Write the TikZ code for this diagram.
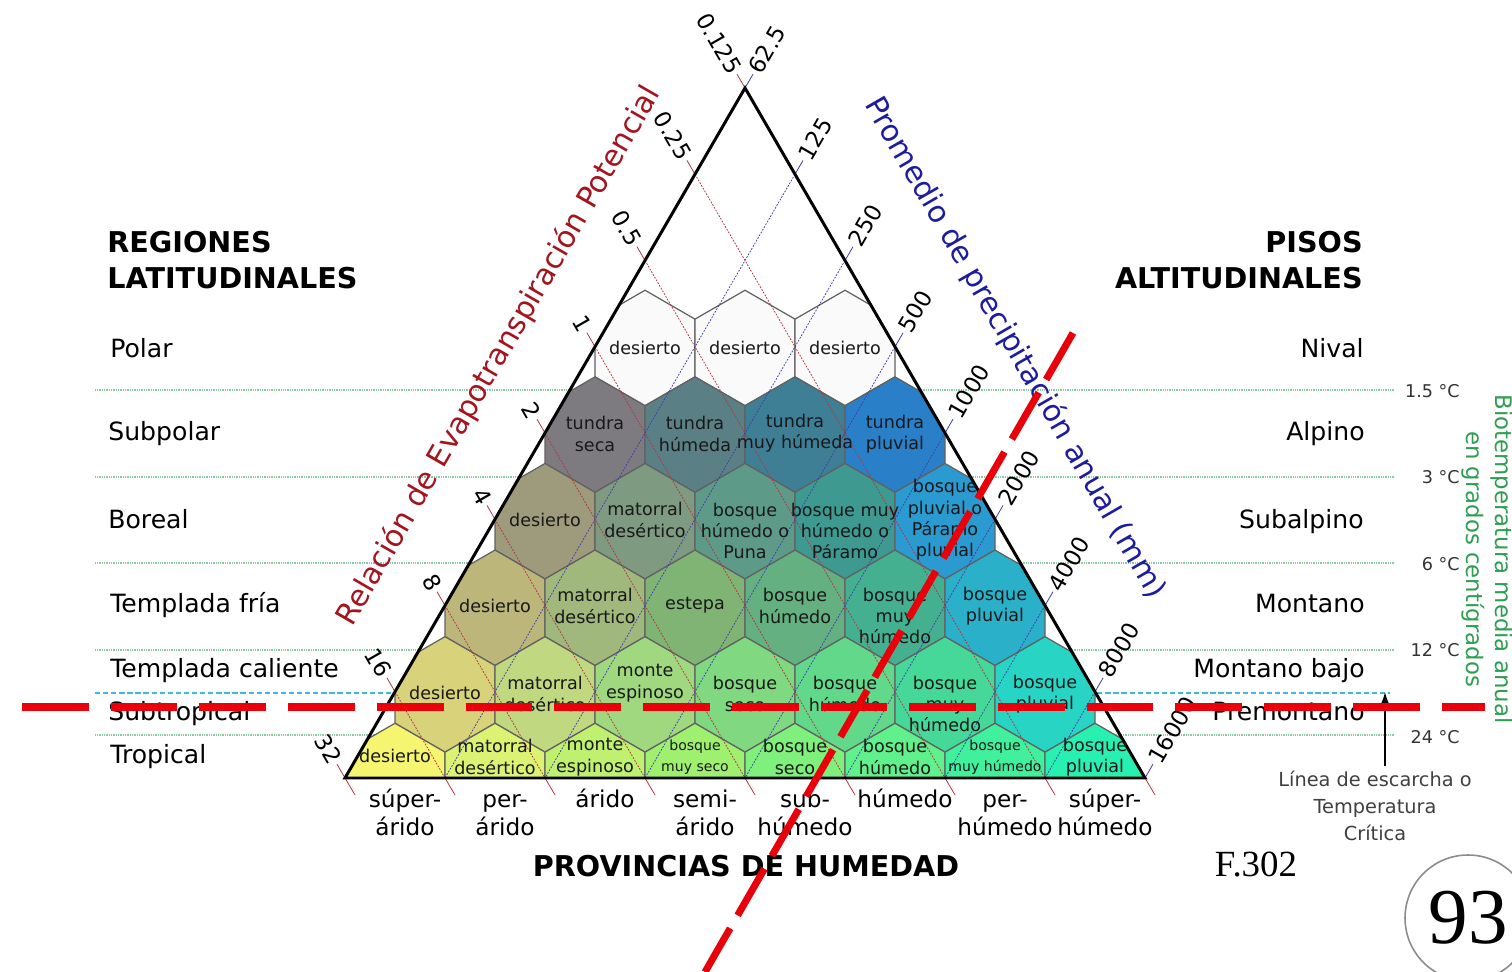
\documentclass[tikz,border=0pt]{standalone}
\usepackage{fontspec}
\setmainfont{DejaVu Sans}
\newfontfamily\serifa{Liberation Serif}
\usepackage{tikz}
\usetikzlibrary{positioning,arrows.meta}

\definecolor{rojoeje}{HTML}{A3141E}
\definecolor{azuleje}{HTML}{1C1CA0}
\definecolor{verdebio}{HTML}{2E9E50}
\definecolor{verdeguia}{HTML}{8CCBA2}
\definecolor{azulhelada}{HTML}{3CB8E6}
\definecolor{rojomarca}{HTML}{E8000A}

%hexagono de punta arriba, centro (#1,#2)
\newcommand{\hexa}[2]{(#1,#2-57.74) -- (#1+50,#2-28.87) -- (#1+50,#2+28.87) -- (#1,#2+57.74) -- (#1-50,#2+28.87) -- (#1-50,#2-28.87) -- cycle}

%x/y centro, y texto, color, letra, texto
\def\zonas{645/348/348/FAFAFA/10/desierto, 745/348/348/FAFAFA/10/desierto, 845/348/348/FAFAFA/10/desierto,
595/434.6/434/7D7B80/10/{tundra\\seca}, 695/434.6/434/5A8085/10/{tundra\\húmeda}, 795/434.6/433/3E7F96/10/{tundra\\muy húmeda}, 895/434.6/434/2A80C8/10/{tundra\\pluvial},
545/521.2/520/9E9A7C/10/desierto, 645/521.2/520/7E9A80/10/{matorral\\desértico}, 745/521.2/531/5E9A88/10/{bosque\\húmedo o\\Puna}, 845/521.2/531/3E9A90/10/{bosque muy\\húmedo o\\Páramo}, 945/521.2/520/2A9AD0/10/{bosque\\pluvial o\\Páramo\\pluvial},
495/607.8/606/BDB67A/10/desierto, 595/607.8/606/A0B87C/10/{matorral\\desértico}, 695/607.8/605/80B474/10/estepa, 795/607.8/606/64B080/10/{bosque\\húmedo}, 895/607.8/616/45B090/10/{bosque\\muy\\húmedo}, 995/607.8/606/2AB0C8/10/{bosque\\pluvial},
445/694.4/693/D8D27A/10/desierto, 545/694.4/694/C0D880/10/{matorral\\desértico}, 645/694.4/683/A0D880/10/{monte\\espinoso}, 745/694.4/694/80D880/10/{bosque\\seco}, 845/694.4/694/62D88A/10/{bosque\\húmedo}, 945/694.4/704/45D898/10/{bosque\\muy\\húmedo}, 1045/694.4/694/28D4C4/10/{bosque\\pluvial},
395/781/756/F5F570/10/desierto, 495/781/757/DCF272/10/{matorral\\desértico}, 595/781/757/C0F070/10/{monte\\espinoso}, 695/781/757/A0F070/8/{bosque\\muy seco}, 795/781/757/80F07C/10/{bosque\\seco}, 895/781/757/60F08C/10/{bosque\\húmedo}, 995/781/757/40F09C/8/{bosque\\muy húmedo}, 1095/781/757/28F0B0/10/{bosque\\pluvial}}

\tikzset{
	borde/.style={draw=black!62, line width=0.7pt},
	ejerojo/.style={rojoeje!85, line width=0.45pt},
	ejeazul/.style={azuleje!85, line width=0.45pt},
	punteado/.style={dash pattern=on 1pt off 0.8pt},
	guia/.style={verdeguia, line width=0.6pt, dash pattern=on 0.5pt off 0.5pt},
	tickizq/.style={font=\fontsize{13}{15}\selectfont, anchor=east, rotate=-60, inner sep=1.5pt},
	tickder/.style={font=\fontsize{13}{15}\selectfont, anchor=west, rotate=60, inner sep=1.5pt},
	region/.style={font=\fontsize{14.3}{17}\selectfont, anchor=base west, inner sep=0pt},
	piso/.style={font=\fontsize{14.3}{17}\selectfont, anchor=base east, inner sep=0pt},
	titulo/.style={font=\fontsize{16.3}{19}\selectfont\bfseries, inner sep=0pt},
	provincia/.style={font=\fontsize{13.2}{16}\selectfont, align=center, anchor=north, inner sep=0pt},
	temp/.style={font=\fontsize{10}{12}\selectfont, text=black!80, anchor=east, inner sep=0pt},
	marcaroja/.style={rojomarca, line width=4pt}
}

\begin{document}
\begin{tikzpicture}[x=0.02cm, y=-0.02cm]
		\useasboundingbox (0,0) rectangle (1512,972);
		\clip (0,0) rectangle (1512,972);
		\fill[white] (0,0) rectangle (1512,972);
		\coordinate (cima) at (745,88);
		\coordinate (izq) at (345,778);
		\coordinate (der) at (1145,778);
		%Lineas de biotemperatura
		\foreach \y in {390,477,563,650,735}
		\draw[guia] (95,\y) -- (1395,\y);
		\draw[azulhelada, line width=0.8pt, dash pattern=on 3pt off 1.6pt] (95,693) -- (1390,693);
		%Hexagonos
		\begin{scope}
			\clip (cima) -- (izq) -- (der) -- cycle;
			\foreach \cx/\cy/\ly/\col/\fs/\txt in \zonas {
				\definecolor{tono}{HTML}{\col}
				\filldraw[fill=tono, borde] \hexa{\cx}{\cy};
			}
		\end{scope}
		%Relacion de evapotranspiracion
		\foreach \v [count=\i from 0] in {0.125,0.25,0.5,1,2,4,8,16,32} {
			\coordinate (pe\i) at (745-50*\i, 88+86.25*\i);
			\coordinate (se\i) at (745-50*\i-8, 88+86.25*\i-13.8);
			\coordinate (be\i) at (1145-100*\i, 778);
			\coordinate (te\i) at (1145-100*\i+10, 795);
			\draw[ejerojo] (se\i) -- (pe\i);
			\draw[ejerojo, punteado] (pe\i) -- (be\i);
			\draw[ejerojo] (be\i) -- (te\i);
			\node[tickizq] (ve\i) at (se\i) {\v};
		}
		%Precipitacion
		\foreach \v [count=\i from 0] in {62.5,125,250,500,1000,2000,4000,8000,16000} {
			\coordinate (pp\i) at (745+50*\i, 88+86.25*\i);
			\coordinate (sp\i) at (745+50*\i+8, 88+86.25*\i-13.8);
			\coordinate (bp\i) at (345+100*\i, 778);
			\draw[ejeazul] (sp\i) -- (pp\i);
			\draw[ejeazul, punteado] (pp\i) -- (bp\i);
			\node[tickder] (vp\i) at (sp\i) {\v};
		}
		\draw[line width=1.7pt] (cima) -- (izq) -- (der) -- cycle;
		%Nombres de zonas
		\foreach \cx/\cy/\ly/\col/\fs/\txt [count=\n] in \zonas
		\node[font=\fontsize{\fs}{12.2}\selectfont, align=center, text=black!90, inner sep=0pt] (zona\n) at (\cx,\ly) {\txt};
		%Ejes
		\node[font=\fontsize{17}{20}\selectfont, text=rojoeje, rotate=60] (relacion) at (499,356) {Relación de Evapotranspiración Potencial};
		\node[font=\fontsize{17}{20}\selectfont, text=azuleje, rotate=-60] (promedio) at (1015,348) {Promedio de precipitación anual (mm)};
		\node[font=\fontsize{13}{16.4}\selectfont, text=verdebio, rotate=-90, align=center] (bio) at (1487,559) {Biotemperatura media anual\\en grados centígrados};
		%Regiones latitudinales
		\node[titulo, anchor=base west] (regiones) at (107,253) {REGIONES};
		\node[titulo, anchor=base west] (latitud) at (107,289) {LATITUDINALES};
		\node[region] (polar) at (110,358) {Polar};
		\node[region] (subpolar) at (108,441) {Subpolar};
		\node[region] (boreal) at (108,529) {Boreal};
		\node[region] (fria) at (110,613) {Templada fría};
		\node[region] (caliente) at (110,678) {Templada caliente};
		\node[region] (subtropical) at (108,721) {Subtropical};
		\node[region] (tropical) at (110,764) {Tropical};
		%Pisos altitudinales
		\node[titulo, anchor=base east] (pisos) at (1363,253) {PISOS};
		\node[titulo, anchor=base east] (altitud) at (1363,289) {ALTITUDINALES};
		\node[piso] (nival) at (1364,358) {Nival};
		\node[piso] (alpino) at (1365,441) {Alpino};
		\node[piso] (subalpino) at (1364,529) {Subalpino};
		\node[piso] (montano) at (1365,613) {Montano};
		\node[piso] (bajo) at (1365,678) {Montano bajo};
		\node[piso] (premontano) at (1365,721) {Premontano};
		%Temperaturas
		\node[temp] (t1) at (1460,391) {1.5 °C};
		\node[temp] (t2) at (1460,477) {3 °C};
		\node[temp] (t3) at (1460,564) {6 °C};
		\node[temp] (t4) at (1460,650) {12 °C};
		\node[temp] (t5) at (1460,737) {24 °C};
		%Provincias de humedad
		\foreach \x/\txt [count=\n] in {405/{súper-\\árido}, 505/{per-\\árido}, 605/árido, 705/{semi-\\árido}, 805/{sub-\\húmedo}, 905/húmedo, 1005/{per-\\húmedo}, 1105/{súper-\\húmedo}}
		\node[provincia] (prov\n) at (\x,787) {\rule{0pt}{11.4pt}\txt};
		\node[titulo] (provincias) at (746,866) {PROVINCIAS DE HUMEDAD};
		%Linea de escarcha
		\node[font=\fontsize{11}{15.3}\selectfont, text=black!75, align=center, anchor=north, inner sep=0pt] (escarcha) at (1375,771) {Línea de escarcha o\\Temperatura\\Crítica};
		\coordinate (pie) at (1385,766);
		\coordinate (helada) at (1385,692);
		\draw[line width=1.1pt, -{Latex[length=8pt,width=6pt]}] (pie) -- (helada);
		\node[font=\fontsize{21}{24}\selectfont\serifa] (figura) at (1256,864) {F.302};
		\node[circle, draw=black!45, line width=0.9pt, minimum size=2.52cm, inner sep=0pt, font=\fontsize{45}{50}\selectfont\serifa] (pagina) at (1468,918) {93};
		%Marcas rojas
		\coordinate (m1) at (22,707);
		\coordinate (m2) at (1485,707);
		\coordinate (m3) at (1073,333);
		\coordinate (m4) at (705,972);
		\draw[marcaroja, dash pattern=on 38pt off 12.5pt] (m1) -- (m2);
		\draw[marcaroja, dash pattern=on 30.6pt off 8.5pt] (m3) -- (m4);
\end{tikzpicture}
\end{document}
